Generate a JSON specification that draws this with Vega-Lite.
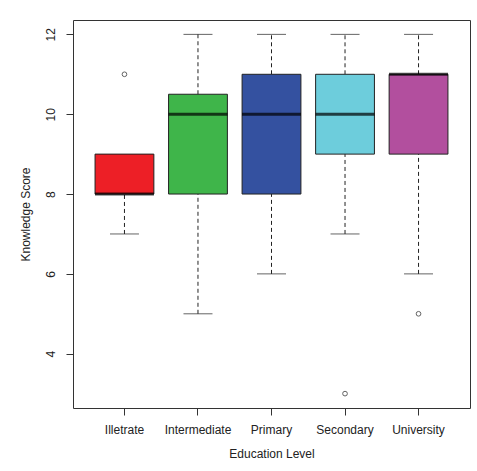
{
  "$schema": "https://vega.github.io/schema/vega-lite/v6.json",
  "width": 397,
  "height": 388,
  "autosize": {"type": "none"},
  "padding": {"left": 73, "top": 20, "right": 7, "bottom": 63},
  "background": "white",
  "config": {
    "view": {"stroke": "#333333", "strokeWidth": 1},
    "font": "Liberation Sans",
    "axis": {
      "grid": false,
      "domain": false,
      "tickColor": "#333333",
      "tickSize": 7,
      "labelFont": "Liberation Sans",
      "labelFontSize": 12,
      "labelColor": "#222222",
      "titleFont": "Liberation Sans",
      "titleFontSize": 12,
      "titleFontWeight": "normal",
      "titleColor": "#222222"
    }
  },
  "datasets": {
    "stats": [
      {"level": "Illetrate", "lo": 7, "q1": 8, "median": 8, "q3": 9, "hi": 9},
      {"level": "Intermediate", "lo": 5, "q1": 8, "median": 10, "q3": 10.5, "hi": 12},
      {"level": "Primary", "lo": 6, "q1": 8, "median": 10, "q3": 11, "hi": 12},
      {"level": "Secondary", "lo": 7, "q1": 9, "median": 10, "q3": 11, "hi": 12},
      {"level": "University", "lo": 6, "q1": 9, "median": 11, "q3": 11, "hi": 12}
    ],
    "outliers": [
      {"level": "Illetrate", "score": 11},
      {"level": "Secondary", "score": 3},
      {"level": "University", "score": 5}
    ]
  },
  "encoding": {
    "x": {
      "field": "level",
      "type": "nominal",
      "sort": ["Illetrate", "Intermediate", "Primary", "Secondary", "University"],
      "scale": {"paddingInner": 0.2, "paddingOuter": 0.3},
      "axis": {"title": "Education Level", "labelAngle": 0, "labelPadding": 9, "titlePadding": 13}
    }
  },
  "layer": [
    {
      "data": {"name": "stats"},
      "mark": {"type": "rule", "color": "#222222", "strokeDash": [4, 3], "strokeWidth": 1},
      "encoding": {
        "y": {"field": "lo", "type": "quantitative", "title": "Knowledge Score",
              "scale": {"domain": [2.64, 12.36], "nice": false, "zero": false},
              "axis": {"values": [4, 6, 8, 10, 12], "labelAngle": -90, "labelAlign": "center", "labelBaseline": "bottom", "labelPadding": 9, "titlePadding": 12}},
        "y2": {"field": "q1"}
      }
    },
    {
      "data": {"name": "stats"},
      "mark": {"type": "rule", "color": "#222222", "strokeDash": [4, 3], "strokeWidth": 1},
      "encoding": {
        "y": {"field": "q3", "type": "quantitative", "title": "Knowledge Score"},
        "y2": {"field": "hi"}
      }
    },
    {
      "data": {"name": "stats"},
      "mark": {"type": "tick", "color": "#222222", "size": 29, "thickness": 1},
      "encoding": {
        "y": {"field": "lo", "type": "quantitative", "title": "Knowledge Score"}
      }
    },
    {
      "data": {"name": "stats"},
      "transform": [{"filter": "datum.hi > datum.q3"}],
      "mark": {"type": "tick", "color": "#222222", "size": 29, "thickness": 1},
      "encoding": {
        "y": {"field": "hi", "type": "quantitative", "title": "Knowledge Score"}
      }
    },
    {
      "data": {"name": "stats"},
      "mark": {"type": "bar", "stroke": "#222222", "strokeWidth": 1},
      "encoding": {
        "y": {"field": "q1", "type": "quantitative", "title": "Knowledge Score"},
        "y2": {"field": "q3"},
        "color": {
          "field": "level",
          "type": "nominal",
          "scale": {
            "domain": ["Illetrate", "Intermediate", "Primary", "Secondary", "University"],
            "range": ["#ED1F26", "#3FB54A", "#3451A0", "#6DCDDC", "#B24F9E"]
          },
          "legend": null
        }
      }
    },
    {
      "data": {"name": "stats"},
      "mark": {"type": "tick", "color": "#000000", "size": 59, "thickness": 3},
      "encoding": {
        "y": {"field": "median", "type": "quantitative", "title": "Knowledge Score"}
      }
    },
    {
      "data": {"name": "outliers"},
      "mark": {"type": "point", "shape": "circle", "filled": false, "size": 22, "stroke": "#222222", "strokeWidth": 1},
      "encoding": {
        "y": {"field": "score", "type": "quantitative", "title": "Knowledge Score"}
      }
    }
  ]
}
